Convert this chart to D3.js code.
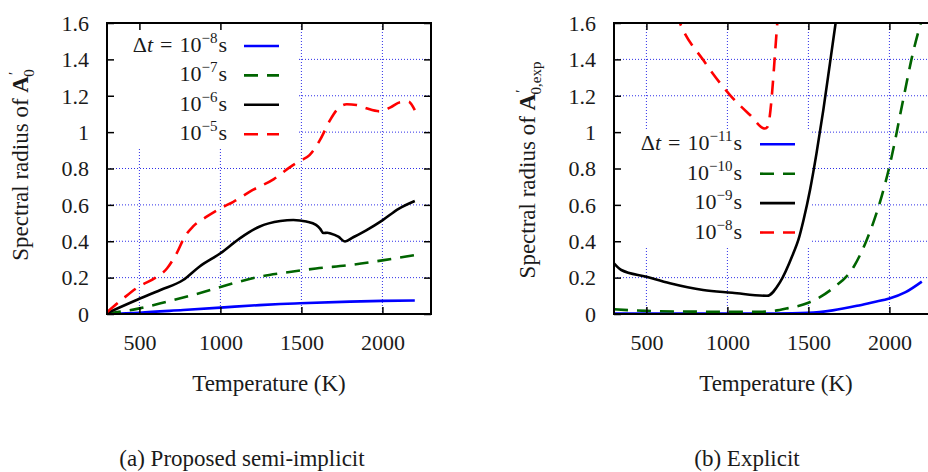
<!DOCTYPE html>
<html>
<head>
<meta charset="utf-8">
<script src="https://cdn.jsdelivr.net/npm/d3@7"></script>
<style>
  body { margin: 0; background: #fff; }
  svg { display: block; }
</style>
</head>
<body>
<div id="chart"></div>
<script>
// ---- data ----
const xTicks = [500, 1000, 1500, 2000];
const yTicks = [0, 0.2, 0.4, 0.6, 0.8, 1, 1.2, 1.4, 1.6];
const yTickLabels = ["0", "0.2", "0.4", "0.6", "0.8", "1", "1.2", "1.4", "1.6"];

// (a) proposed semi-implicit, [temperature K, spectral radius]
const semiDt8 = [[300, 0], [500, 0.007], [770, 0.022], [1000, 0.035], [1240, 0.049], [1370, 0.055],
  [1490, 0.059], [1800, 0.068], [2000, 0.072], [2200, 0.074]];
const semiDt7 = [[300, 0.002], [500, 0.031], [670, 0.068], [870, 0.114], [1080, 0.169], [1240, 0.205],
  [1390, 0.226], [1590, 0.25], [1800, 0.269], [2000, 0.295], [2200, 0.324]];
const semiDt6 = [[300, 0.005], [490, 0.08], [630, 0.132], [770, 0.187], [870, 0.26], [1000, 0.334],
  [1120, 0.416], [1240, 0.48], [1370, 0.511], [1450, 0.517], [1530, 0.508], [1590, 0.49], [1615, 0.47],
  [1636, 0.445], [1660, 0.447], [1680, 0.443], [1728, 0.425], [1769, 0.399], [1820, 0.422],
  [1900, 0.46], [2000, 0.515], [2100, 0.578], [2200, 0.621]];
const semiDt5 = [[300, 0.01], [400, 0.085], [490, 0.147], [600, 0.2], [670, 0.25], [730, 0.334],
  [780, 0.425], [830, 0.48], [915, 0.535], [1000, 0.581], [1080, 0.617], [1200, 0.682], [1330, 0.742],
  [1430, 0.808], [1490, 0.841], [1550, 0.874], [1615, 0.957], [1677, 1.066], [1718, 1.121],
  [1780, 1.153], [1840, 1.149], [1900, 1.131], [1985, 1.114], [2050, 1.136], [2110, 1.164],
  [2160, 1.168], [2200, 1.121]];

// (b) explicit
const explDt11 = [[300, 0.003], [700, 0.002], [1000, 0.002], [1300, 0.002], [1500, 0.006], [1650, 0.02],
  [1800, 0.045], [1900, 0.065], [2000, 0.085], [2100, 0.12], [2200, 0.178]];
const explDt10 = [[300, 0.026], [500, 0.017], [800, 0.013], [1030, 0.012], [1200, 0.012], [1280, 0.016],
  [1370, 0.031], [1500, 0.062], [1650, 0.141], [1780, 0.26], [1860, 0.407], [1940, 0.61], [2000, 0.81],
  [2090, 1.2], [2140, 1.415], [2200, 1.62]];
const explDt9 = [[300, 0.279], [345, 0.242], [500, 0.205], [645, 0.169], [850, 0.132], [1030, 0.117],
  [1245, 0.1], [1325, 0.175], [1407, 0.334], [1438, 0.407], [1470, 0.517], [1510, 0.682], [1550, 0.883],
  [1592, 1.121], [1633, 1.378], [1668, 1.6], [1700, 1.8]];
const explDt8 = [[600, 1.9], [707, 1.6], [851, 1.396], [1016, 1.204], [1140, 1.094], [1232, 1.02],
  [1248, 1.03], [1308, 1.6], [1325, 1.8]];

const semiExponents = ["\u22128", "\u22127", "\u22126", "\u22125"];
const explExponents = ["\u221211", "\u221210", "\u22129", "\u22128"];

// ---- drawing ----
const W = 928, H = 472;
const colors = ["#0000ff", "#006400", "#000000", "#ff0000"];
const dashes = [null, "14,9", null, "14,9"];
const textColor = "#1a1a1a";
const serif = "Liberation Serif, Times New Roman, Times, Tinos, Noto Serif, DejaVu Serif, FreeSerif, serif";

const svg = d3.select("#chart").append("svg")
    .attr("width", W)
    .attr("height", H)
    .attr("font-family", serif);

function drawPanel(p) {
    const top = 23, bottom = 314, pw = 324;
    const x = d3.scaleLinear().domain([300, 2300]).range([p.left, p.left + pw]);
    const y = d3.scaleLinear().domain([0, 1.6]).range([bottom, top]);
    const g = svg.append("g");

    // dotted grid
    const grid = g.append("g")
        .attr("stroke", "#2f2fe8")
        .attr("stroke-width", 1)
        .attr("stroke-dasharray", "1,2");
    grid.selectAll("line.v").data(xTicks).join("line")
        .attr("x1", d => x(d)).attr("x2", d => x(d))
        .attr("y1", top).attr("y2", bottom);
    grid.selectAll("line.h").data(yTicks.slice(1, -1)).join("line")
        .attr("x1", p.left).attr("x2", p.left + pw)
        .attr("y1", d => y(d)).attr("y2", d => y(d));

    // opaque key box clears the grid
    g.append("rect")
        .attr("x", p.key.x0).attr("y", p.key.y0)
        .attr("width", p.key.x1 - p.key.x0).attr("height", p.key.y1 - p.key.y0)
        .attr("fill", "#fff");

    // curves
    const clipId = "clip" + p.id;
    g.append("clipPath").attr("id", clipId)
      .append("rect")
        .attr("x", p.left).attr("y", top)
        .attr("width", pw).attr("height", bottom - top);

    const line = d3.line()
        .x(d => x(d[0]))
        .y(d => y(d[1]))
        .curve(d3.curveMonotoneX);

    g.append("g").attr("clip-path", `url(#${clipId})`)
      .selectAll("path").data(p.series).join("path")
        .attr("d", line)
        .attr("fill", "none")
        .attr("stroke", (d, i) => colors[i])
        .attr("stroke-width", 2.6)
        .attr("stroke-dasharray", (d, i) => dashes[i]);

    // axes: inward ticks, mirrored
    const styleAxis = sel => {
        sel.attr("font-family", serif).attr("font-size", null);
        sel.select(".domain").remove();
        sel.selectAll(".tick line").attr("stroke", "#000").attr("stroke-width", 1.5);
        sel.selectAll("text").attr("fill", textColor).style("font-size", "22px");
    };
    g.append("g").attr("transform", `translate(0,${bottom})`)
        .call(d3.axisBottom(x).tickValues(xTicks).tickSize(-7).tickPadding(20).tickFormat(d3.format("d")))
        .call(styleAxis);
    g.append("g").attr("transform", `translate(0,${top})`)
        .call(d3.axisTop(x).tickValues(xTicks).tickSize(-7).tickFormat(""))
        .call(styleAxis);
    g.append("g").attr("transform", `translate(${p.left},0)`)
        .call(d3.axisLeft(y).tickValues(yTicks).tickSize(-7).tickPadding(18)
            .tickFormat((d, i) => yTickLabels[i]))
        .call(styleAxis)
        .selectAll("text").attr("dy", "0.33em");
    g.append("g").attr("transform", `translate(${p.left + pw},0)`)
        .call(d3.axisRight(y).tickValues(yTicks).tickSize(-7).tickFormat(""))
        .call(styleAxis);

    // frame
    g.append("rect")
        .attr("x", p.left).attr("y", top)
        .attr("width", pw).attr("height", bottom - top)
        .attr("fill", "none").attr("stroke", "#000").attr("stroke-width", 2);

    // key
    p.exponents.forEach((exp, i) => {
        const ly = p.key.firstY + i * 29.4;
        const t = g.append("text")
            .attr("x", p.key.textX).attr("y", ly + 6)
            .attr("text-anchor", "end")
            .attr("fill", textColor)
            .style("font-size", "22px");
        if (i === 0) {
            t.append("tspan").text("\u0394");
            t.append("tspan").attr("font-style", "italic").text("t");
            t.append("tspan").attr("dx", 7).text("=");
            t.append("tspan").attr("dx", 7).text("10");
        } else {
            t.append("tspan").text("10");
        }
        t.append("tspan").attr("dy", -9).style("font-size", "15px").text(exp);
        t.append("tspan").attr("dy", 9).attr("dx", 1).text("s");

        g.append("line")
            .attr("x1", p.key.sampleX).attr("x2", p.key.sampleX + 35)
            .attr("y1", ly).attr("y2", ly)
            .attr("stroke", colors[i])
            .attr("stroke-width", 2.6)
            .attr("stroke-dasharray", dashes[i]);
    });

    // axis titles
    g.append("text")
        .attr("x", p.left + pw / 2).attr("y", 391)
        .attr("text-anchor", "middle")
        .attr("fill", textColor)
        .style("font-size", "23px")
        .text("Temperature (K)");

    const yt = g.append("text")
        .attr("transform", `translate(${p.yTitleX},${p.yTitleY}) rotate(-90)`)
        .attr("text-anchor", "middle")
        .attr("fill", textColor)
        .style("font-size", "23px");
    yt.append("tspan").text("Spectral radius of ");
    yt.append("tspan").attr("font-weight", "bold").text("A");
    yt.append("tspan").attr("dy", -9).attr("dx", 1).style("font-size", "15px").text("\u2032");
    yt.append("tspan").attr("dy", 15).attr("dx", -5).style("font-size", "15px").text(p.sub);

    // caption
    g.append("text")
        .attr("x", p.captionX).attr("y", 466)
        .attr("text-anchor", "middle")
        .attr("fill", textColor)
        .style("font-size", "23px")
        .text(p.caption);
}

drawPanel({
    id: "a", left: 107,
    series: [semiDt8, semiDt7, semiDt6, semiDt5],
    exponents: semiExponents,
    key: { x0: 107, y0: 23, x1: 297, y1: 148, firstY: 46, textX: 227, sampleX: 244 },
    yTitleX: 28, yTitleY: 165, sub: "0",
    caption: "(a) Proposed semi-implicit", captionX: 242
});

drawPanel({
    id: "b", left: 614,
    series: [explDt11, explDt10, explDt9, explDt8],
    exponents: explExponents,
    key: { x0: 614, y0: 130, x1: 810, y1: 248, firstY: 144.3, textX: 742, sampleX: 760 },
    yTitleX: 535, yTitleY: 170, sub: "0,exp",
    caption: "(b) Explicit", captionX: 747
});
</script>
</body>
</html>
